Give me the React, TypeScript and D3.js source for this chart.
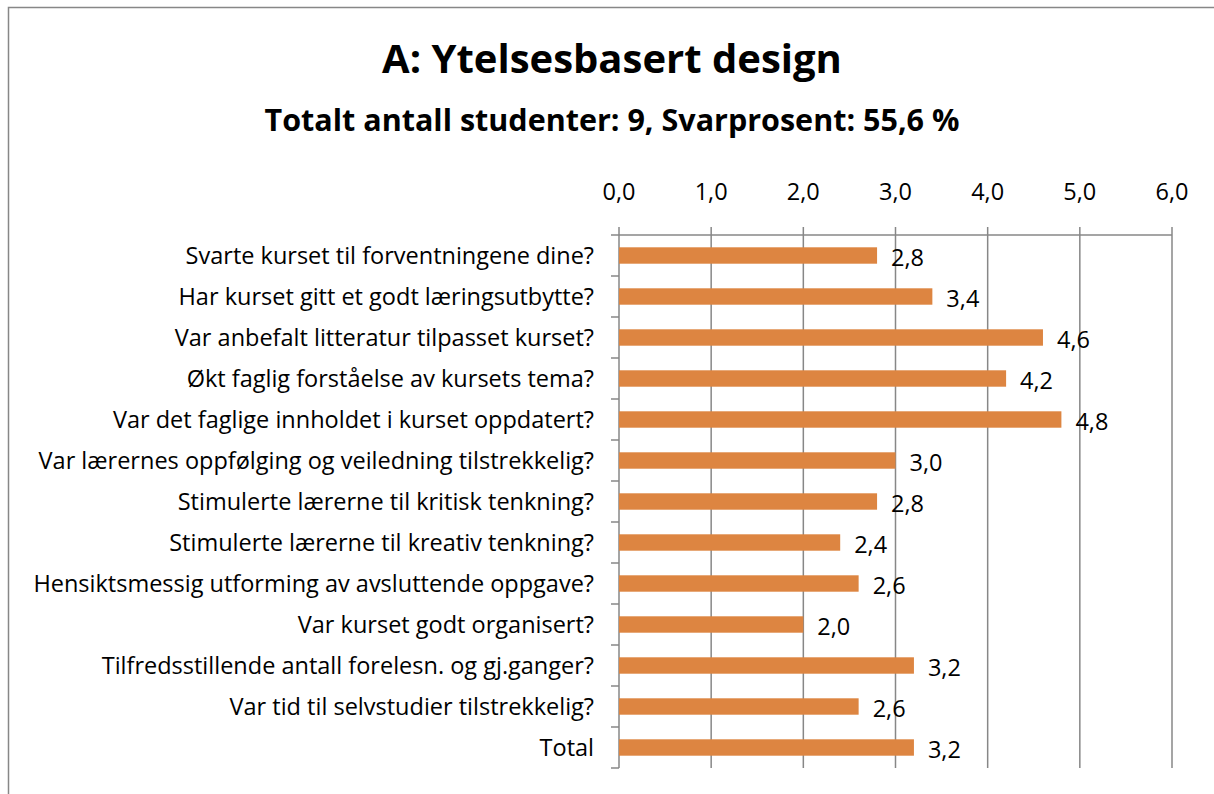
import React from "react";
import * as d3 from "d3";

const categories = [
  "Svarte kurset til forventningene dine?",
  "Har kurset gitt et godt læringsutbytte?",
  "Var anbefalt litteratur tilpasset kurset?",
  "Økt faglig forståelse av kursets tema?",
  "Var det faglige innholdet i kurset oppdatert?",
  "Var lærernes oppfølging og veiledning tilstrekkelig?",
  "Stimulerte lærerne til kritisk tenkning?",
  "Stimulerte lærerne til kreativ tenkning?",
  "Hensiktsmessig utforming av avsluttende oppgave?",
  "Var kurset godt organisert?",
  "Tilfredsstillende antall forelesn. og gj.ganger?",
  "Var tid til selvstudier tilstrekkelig?",
  "Total",
];
const values = [2.8, 3.4, 4.6, 4.2, 4.8, 3.0, 2.8, 2.4, 2.6, 2.0, 3.2, 2.6, 3.2];
const ticks = [0, 1, 2, 3, 4, 5, 6];
const title = "A: Ytelsesbasert design";
const subtitle = "Totalt antall studenter: 9, Svarprosent: 55,6 %";

const FONT = "'Open Sans', sans-serif";
const fmt = (v: number) => v.toFixed(1).replace(".", ",");

export default function App() {
  const W = 1214;
  const H = 794;
  const x = d3.scaleLinear().domain([0, 6]).range([619, 1172]);
  const y = d3.scaleBand<string>().domain(categories).range([235, 768]).paddingInner(0.6).paddingOuter(0.3);
  const band = d3.scaleBand<string>().domain(categories).range([235, 768]);
  const grid = "#878787";
  return (
    <svg width={W} height={H} style={{ position: "absolute", left: 0, top: 0 }}>
      <rect x={0} y={0} width={W} height={H} fill="#fff" />
      <rect x={8.5} y={7.5} width={1220} height={800} fill="none" stroke={grid} strokeWidth={1.5} />
      <text x={612} y={73} textAnchor="middle" fontFamily={FONT} fontWeight="bold" fontSize={40}>{title}</text>
      <text x={612} y={131} textAnchor="middle" fontFamily={FONT} fontWeight="bold" fontSize={30.5}>{subtitle}</text>
      {ticks.map((t) => (
        <g key={t}>
          <line x1={x(t)} x2={x(t)} y1={227} y2={768} stroke={grid} strokeWidth={1.5} />
          <text x={x(t)} y={200} textAnchor="middle" fontFamily={FONT} fontSize={23.5}>{fmt(t)}</text>
        </g>
      ))}
      <line x1={x(0)} x2={x(6)} y1={235} y2={235} stroke={grid} strokeWidth={1.5} />
      {categories.map((c) => (
        <line key={"t" + c} x1={611} x2={619} y1={(band(c) as number)} y2={(band(c) as number)} stroke={grid} strokeWidth={1.5} />
      ))}
      <line x1={611} x2={619} y1={768} y2={768} stroke={grid} strokeWidth={1.5} />
      {categories.map((c, i) => {
        const yc = (y(c) as number) + y.bandwidth() / 2;
        return (
          <g key={c}>
            <rect x={x(0)} y={y(c)} width={x(values[i]) - x(0)} height={y.bandwidth()} fill="#DD8541" />
            <text x={594} y={yc + 8} textAnchor="end" fontFamily={FONT} fontSize={23.5}>{c}</text>
            <text x={x(values[i]) + 14} y={yc + 10.5} fontFamily={FONT} fontSize={23.5}>{fmt(values[i])}</text>
          </g>
        );
      })}
    </svg>
  );
}
